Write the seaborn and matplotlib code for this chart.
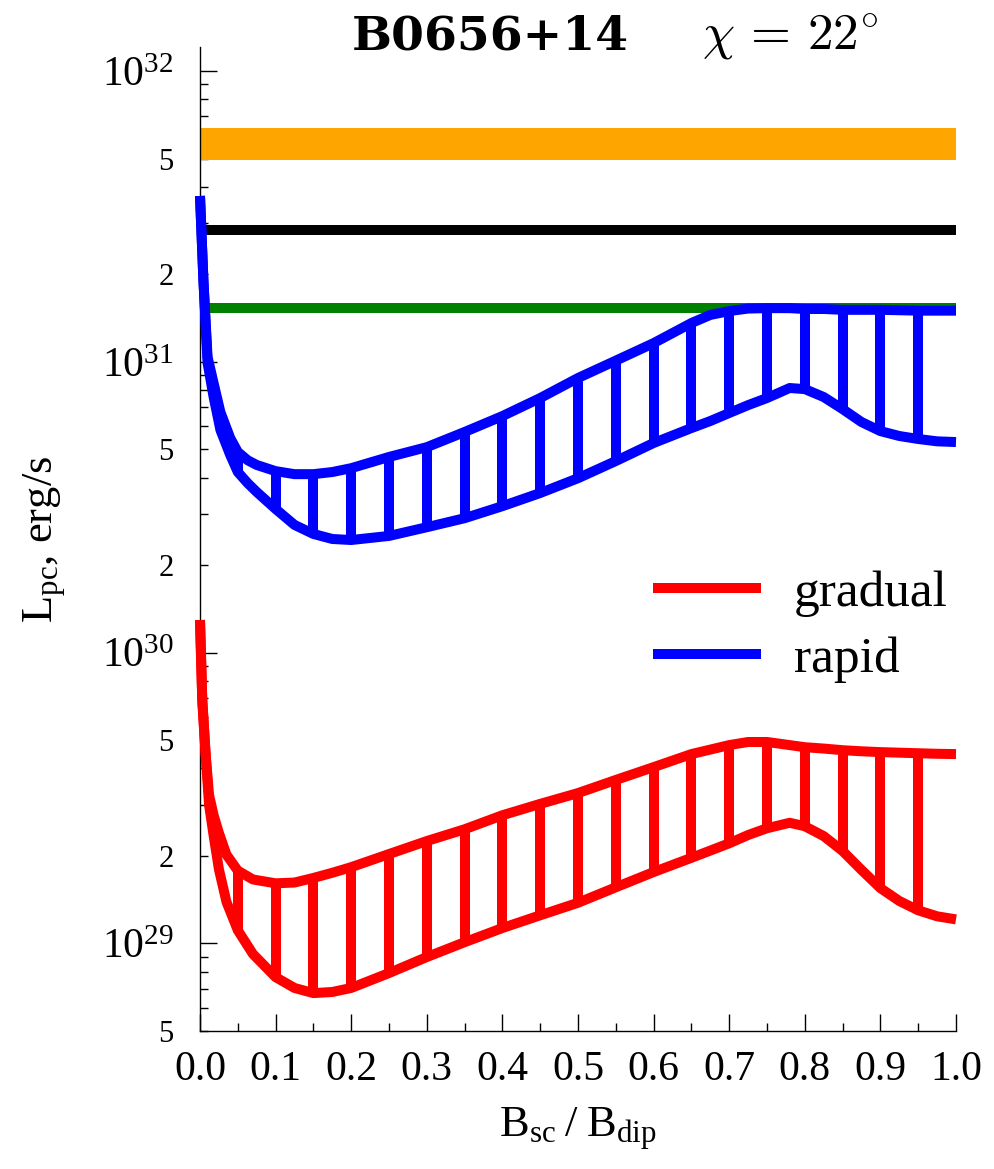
import numpy as np
import pandas as pd
import matplotlib
matplotlib.use("Agg")
import matplotlib.pyplot as plt
import seaborn as sns
from matplotlib.ticker import LogLocator, MultipleLocator, FuncFormatter
from matplotlib.lines import Line2D

# ---------------- data ----------------
x_rapid = [0, 0.0045, 0.01, 0.018, 0.027, 0.04, 0.05, 0.063, 0.075, 0.1, 0.125, 0.15, 0.175,
           0.2, 0.25, 0.3, 0.35, 0.4, 0.45, 0.5, 0.55, 0.6, 0.65, 0.675, 0.7, 0.725, 0.75,
           0.78, 0.8, 0.825, 0.85, 0.875, 0.9, 0.925, 0.95, 0.975, 1.0]
rapid_upper = [3.72e31, 1.91e31, 1.04e31, 8.45e30, 6.72e30, 5.47e30, 4.90e30, 4.59e30, 4.42e30,
               4.21e30, 4.11e30, 4.11e30, 4.18e30, 4.31e30, 4.71e30, 5.09e30, 5.74e30, 6.51e30,
               7.51e30, 8.80e30, 1.01e31, 1.16e31, 1.36e31, 1.45e31, 1.495e31, 1.525e31,
               1.53e31, 1.53e31, 1.52e31, 1.52e31, 1.51e31, 1.51e31, 1.51e31, 1.505e31,
               1.50e31, 1.50e31, 1.50e31]
rapid_lower = [3.72e31, 1.91e31, 9.91e30, 7.57e30, 5.83e30, 4.78e30, 4.18e30, 3.83e30, 3.57e30,
               3.12e30, 2.75e30, 2.56e30, 2.46e30, 2.44e30, 2.52e30, 2.70e30, 2.90e30, 3.19e30,
               3.54e30, 3.98e30, 4.56e30, 5.26e30, 5.92e30, 6.26e30, 6.67e30, 7.10e30, 7.51e30,
               8.13e30, 8.06e30, 7.57e30, 6.88e30, 6.21e30, 5.78e30, 5.56e30, 5.43e30, 5.33e30,
               5.30e30]

x_gradual = [0, 0.003, 0.0075, 0.012, 0.018, 0.025, 0.035, 0.05, 0.07, 0.1, 0.125, 0.15, 0.175,
             0.2, 0.25, 0.3, 0.35, 0.4, 0.45, 0.5, 0.55, 0.6, 0.65, 0.7, 0.725, 0.75, 0.78,
             0.8, 0.825, 0.85, 0.875, 0.9, 0.925, 0.95, 0.975, 1.0]
gradual_upper = [1.295e30, 6.87e29, 4.45e29, 3.24e29, 2.76e29, 2.40e29, 2.02e29, 1.78e29,
                 1.66e29, 1.61e29, 1.62e29, 1.68e29, 1.75e29, 1.83e29, 2.03e29, 2.25e29,
                 2.47e29, 2.76e29, 3.02e29, 3.29e29, 3.65e29, 4.04e29, 4.48e29, 4.81e29,
                 4.93e29, 4.93e29, 4.81e29, 4.73e29, 4.68e29, 4.62e29, 4.58e29, 4.55e29,
                 4.53e29, 4.51e29, 4.49e29, 4.48e29]
gradual_lower = [1.295e30, 6.87e29, 4.45e29, 2.99e29, 2.35e29, 1.80e29, 1.39e29, 1.11e29,
                 9.20e28, 7.66e28, 7.03e28, 6.75e28, 6.81e28, 7.03e28, 7.91e28, 8.98e28,
                 1.01e29, 1.13e29, 1.25e29, 1.38e29, 1.56e29, 1.76e29, 1.97e29, 2.21e29,
                 2.36e29, 2.49e29, 2.60e29, 2.53e29, 2.34e29, 2.08e29, 1.79e29, 1.55e29,
                 1.40e29, 1.30e29, 1.24e29, 1.21e29]

hatch_x = [0.05, 0.1, 0.15, 0.2, 0.25, 0.3, 0.35, 0.4, 0.45, 0.5, 0.55, 0.6, 0.65,
           0.7, 0.75, 0.8, 0.85, 0.9, 0.95]

orange_band = [4.95e31, 6.35e31]
black_level = 2.84e31
green_level = 1.53e31

legend_labels = ["gradual", "rapid"]
x_ticks = [0.0, 0.1, 0.2, 0.3, 0.4, 0.5, 0.6, 0.7, 0.8, 0.9, 1.0]
title_left = "B0656+14"
title_right = r"$\chi\,=\,22^{\circ}$"

# ---------------- style ----------------
sns.set_theme(style="ticks")
plt.rcParams["font.family"] = ["Liberation Serif", "DejaVu Serif"]
plt.rcParams["mathtext.fontset"] = "custom"
plt.rcParams["mathtext.rm"] = "Liberation Serif"
plt.rcParams["mathtext.it"] = "Liberation Serif:italic"
plt.rcParams["mathtext.bf"] = "Liberation Serif:bold"
for k in ["text.color", "axes.labelcolor", "xtick.color", "ytick.color", "axes.edgecolor"]:
    plt.rcParams[k] = "black"

W, H = 994, 1169
fig = plt.figure(figsize=(W / 100, H / 100), dpi=100)
ax = fig.add_axes([200 / W, 1 - 1031 / H, 756 / W, 984 / H])
ax.set_facecolor("white")
ax.set_yscale("log")

LW = 7.2

# reference levels
ax.axhspan(orange_band[0], orange_band[1], color="#FFA500", lw=0, zorder=1)
ax.axhline(black_level, color="black", lw=LW, zorder=2)
ax.axhline(green_level, color="#008000", lw=LW, zorder=2)

df_r = pd.DataFrame({"x": x_rapid, "up": rapid_upper, "lo": rapid_lower})
df_g = pd.DataFrame({"x": x_gradual, "up": gradual_upper, "lo": gradual_lower})

for df, col in [(df_r, "#0000FF"), (df_g, "#FF0000")]:
    for key in ["up", "lo"]:
        sns.lineplot(data=df, x="x", y=key, ax=ax, color=col, lw=LW, sort=False,
                     estimator=None, solid_capstyle="butt", solid_joinstyle="round",
                     clip_on=False, zorder=4)
    idx = [int(np.argmin(np.abs(df["x"].values - h))) for h in hatch_x]
    ax.vlines(df["x"].values[idx], df["lo"].values[idx], df["up"].values[idx],
              colors=col, lw=LW, zorder=3)

ax.set_xlim(0, 1)
ax.set_ylim(5e28, 1.21e32)

# ticks
ax.set_xticks(x_ticks)
ax.set_xticklabels([f"{t:.1f}" for t in x_ticks])
ax.xaxis.set_minor_locator(MultipleLocator(0.05))
ax.yaxis.set_major_locator(LogLocator(base=10, numticks=20))
ax.yaxis.set_major_formatter(FuncFormatter(lambda v, p: r"$10^{%d}$" % int(round(np.log10(v)))))
ax.yaxis.set_minor_locator(LogLocator(base=10, subs=np.arange(2, 10), numticks=40))


def minor_fmt(v, p):
    m = int(round(v / 10 ** np.floor(np.log10(v) + 1e-9)))
    return str(m) if m in (2, 5) else ""


ax.yaxis.set_minor_formatter(FuncFormatter(minor_fmt))

ax.tick_params(axis="both", which="both", direction="in", top=False, right=False,
               color="black", width=1.0)
ax.tick_params(which="major", length=12, labelsize=30)
ax.tick_params(which="minor", length=6)
ax.tick_params(axis="y", which="both", pad=19)
ax.tick_params(axis="y", which="minor", labelsize=22)
ax.tick_params(axis="x", which="both", pad=14)

for s in ["top", "right"]:
    ax.spines[s].set_visible(False)
for s in ["left", "bottom"]:
    ax.spines[s].set_linewidth(1.0)
    ax.spines[s].set_color("black")

ax.set_xlabel(r"$\mathrm{B_{sc}\;/\;B_{dip}}$", fontsize=32, labelpad=12)
ax.set_ylabel(r"$\mathrm{L_{pc}}$, erg/s", fontsize=32, labelpad=24)

handles = [Line2D([], [], color="#FF0000", lw=LW, solid_capstyle="butt"),
           Line2D([], [], color="#0000FF", lw=LW, solid_capstyle="butt")]
ax.legend(handles, legend_labels, loc="upper left", bbox_to_anchor=(0.599, 0.468),
          frameon=False, fontsize=37, handlelength=2.1, handletextpad=0.65,
          borderpad=0, borderaxespad=0, labelspacing=0.36)

fig.text(352 / W, 1 - 49 / H, title_left, fontsize=34, family="DejaVu Serif",
         fontweight="bold", ha="left", va="baseline")
fig.text(702 / W, 1 - 49 / H, title_right, fontsize=37, math_fontfamily="cm",
         ha="left", va="baseline")

fig.savefig("out.png", dpi=100, facecolor="white")
